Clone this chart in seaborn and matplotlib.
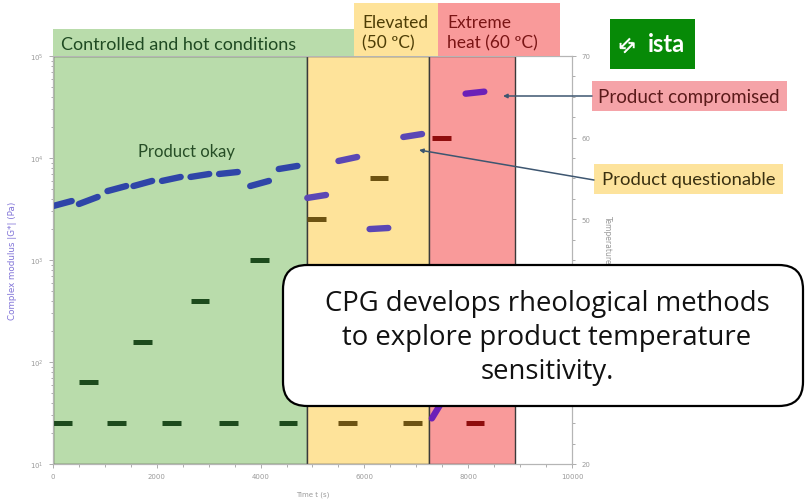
import numpy as np
import pandas as pd
import matplotlib.pyplot as plt
import seaborn as sns
from matplotlib.patches import Rectangle, FancyBboxPatch
from matplotlib.text import Annotation
from matplotlib.ticker import MultipleLocator, LogLocator

# temperature steps of the rheometer run (start time in s, each hold ~360 s)
step_start = [0, 500, 1050, 1550, 2100, 2650, 3200, 3800, 4350, 4900, 5500, 6100, 6750, 7300, 7950]
step_len = 360
step_temp = [25, 30, 25, 35, 25, 40, 25, 45, 25, 50, 25, 55, 25, 60, 25]
# complex modulus at begin / end of each hold (Pa)
g_first = [3380, 3540, 4740, 5310, 5960, 6520, 6970, 5310, 7800, 4060, 9350, 2010, 16070, 28, 42700]
g_last = [3785, 4150, 5310, 5960, 6520, 6970, 7290, 5960, 8360, 4340, 10230, 2060, 17180, 56, 44700]

zone_names = ['controlled', 'elevated', 'extreme']
zone_edges = [0, 4900, 7250, 8900]
zone_fill = ['#b9dcab', '#fee39a', '#f99a9a']
g_colors = ['#2f45a8', '#5b47b5', '#6c20b8']
t_colors = ['#1d4b1d', '#6d5312', '#8f0d0d']
temp_ticks = [20, 30, 40, 50, 60, 70]
# 30 and 40 sit under the callout box in the slide
temp_tick_labels = ['20', '', '', '50', '60', '70']

W, H = 807, 502


def fx(x):
    return x / W


def fy(y):
    return 1 - y / H


rows = []
for i, t0 in enumerate(step_start):
    zone = zone_names[np.searchsorted(zone_edges, t0, side='right') - 1]
    rows.append(dict(step=i, time=t0, g=g_first[i], temp=step_temp[i], zone=zone))
    rows.append(dict(step=i, time=t0 + step_len, g=g_last[i], temp=step_temp[i], zone=zone))
df = pd.DataFrame(rows)

sns.set_theme(style='white')
plt.rcParams['font.family'] = ['DejaVu Sans']

fig = plt.figure(figsize=(W / 100, H / 100), dpi=100)
ax = fig.add_axes([fx(53), fy(465), (572 - 53) / W, (465 - 57) / H])

for i, name in enumerate(zone_names):
    ax.axvspan(zone_edges[i], zone_edges[i + 1], facecolor=zone_fill[i],
               edgecolor='#3a3a3a', lw=1.0, zorder=0)

sns.lineplot(data=df, x='time', y='g', hue='zone', units='step', estimator=None,
             palette=dict(zip(zone_names, g_colors)), lw=4.6, solid_capstyle='round',
             legend=False, ax=ax, zorder=3)
ax.set_yscale('log')
ax.set_ylim(10, 1e5)
ax.set_xlim(0, 10000)
ax.set_xticks(range(0, 10001, 2000))
ax.xaxis.set_minor_locator(MultipleLocator(500))
ax.yaxis.set_minor_locator(LogLocator(subs=np.arange(2, 10)))

ax2 = ax.twinx()
sns.lineplot(data=df, x='time', y='temp', hue='zone', units='step', estimator=None,
             palette=dict(zip(zone_names, t_colors)), lw=3.6, solid_capstyle='butt',
             legend=False, ax=ax2)
ax2.set_ylim(20, 70)
ax2.set_yticks(temp_ticks)
ax2.set_yticklabels(temp_tick_labels)
ax2.yaxis.set_minor_locator(MultipleLocator(2.5))

for a in (ax, ax2):
    for s in a.spines.values():
        s.set_color('#b5b5b5')
        s.set_linewidth(0.8)
    a.tick_params(which='both', colors='#a0a0a0', labelcolor='#9a9a9a', labelsize=5, width=0.6)
    a.tick_params(which='major', length=3)
    a.tick_params(which='minor', length=1.8)
    a.grid(False)
ax.tick_params(axis='both', which='both', bottom=True, left=True)

ax.set_xlabel('Time t (s)', fontsize=5, color='#9a9a9a')
ax.xaxis.set_label_coords(0.5, -0.065)
ax.set_ylabel('Complex modulus |G*| (Pa)', fontsize=6.3, color='#8174d8')
ax.yaxis.set_label_coords(-0.07, 0.5)
ax2.set_ylabel('Temperature', fontsize=5.5, color='#9a9a9a', rotation=270)
ax2.yaxis.set_label_coords(1.077, 0.55)

fig.text(fx(187), fy(152), 'Product okay', family='Lato', fontsize=12, color='#264d26',
         ha='center', va='center')


def box(x0, y0, x1, y1, color, z=1):
    fig.patches.append(Rectangle((fx(x0), fy(y1)), (x1 - x0) / W, (y1 - y0) / H,
                                 transform=fig.transFigure, facecolor=color,
                                 edgecolor='none', zorder=z))


# header bands above the plot
box(53, 30, 354, 57, zone_fill[0])
box(354, 4, 438, 57, zone_fill[1])
box(438, 4, 560, 57, zone_fill[2])
fig.text(fx(61), fy(45), 'Controlled and hot conditions', family='Lato', fontsize=13,
         color='#1f4a22', ha='left', va='center')
fig.text(fx(362), fy(33), 'Elevated\n(50 ºC)', family='Lato', fontsize=12.5,
         color='#4d3d05', ha='left', va='center', linespacing=1.3)
fig.text(fx(447), fy(33), 'Extreme\nheat (60 ºC)', family='Lato', fontsize=12.5,
         color='#7a1515', ha='left', va='center', linespacing=1.3)

# logo
box(610, 20, 695, 70, '#078a07')
fig.text(fx(627), fy(45), '⇆', fontsize=14, fontweight='bold', rotation=45,
         color='white', ha='center', va='center')
fig.text(fx(666), fy(45), 'ista', family='Lato', fontsize=17, fontweight='bold',
         color='white', ha='center', va='center')

# product state labels with leader lines
box(592, 82, 787, 112, '#f5a3a8')
fig.text(fx(598), fy(97), 'Product compromised', family='Lato', fontsize=13.5,
         color='#5a1a1a', ha='left', va='center')
box(594, 165, 783, 195, '#fde39c')
fig.text(fx(602), fy(180), 'Product questionable', family='Lato', fontsize=13.3,
         color='#3a3010', ha='left', va='center')
arrow = dict(arrowstyle='-|>', color='#3d5670', lw=1.1, mutation_scale=6, shrinkA=0, shrinkB=0)
fig.add_artist(Annotation('', xy=(fx(503), fy(97)), xytext=(fx(592), fy(97)),
                          xycoords='figure fraction', arrowprops=arrow))
fig.add_artist(Annotation('', xy=(fx(419), fy(151)), xytext=(fx(594), fy(181)),
                          xycoords='figure fraction', arrowprops=arrow))

# callout
callout = FancyBboxPatch((fx(283), fy(407)), (803 - 283) / W, (407 - 266) / H,
                         boxstyle='round,pad=0,rounding_size=0.03', transform=fig.transFigure,
                         facecolor='white', edgecolor='black', lw=1.6, zorder=8,
                         mutation_aspect=W / H)
fig.patches.append(callout)
fig.text(fx(547), fy(338), 'CPG develops rheological methods\nto explore product temperature\nsensitivity.',
         family='Open Sans', fontsize=19.8, color='#111111', ha='center', va='center',
         linespacing=1.3, zorder=9)

fig.savefig('out.png', dpi=100)
